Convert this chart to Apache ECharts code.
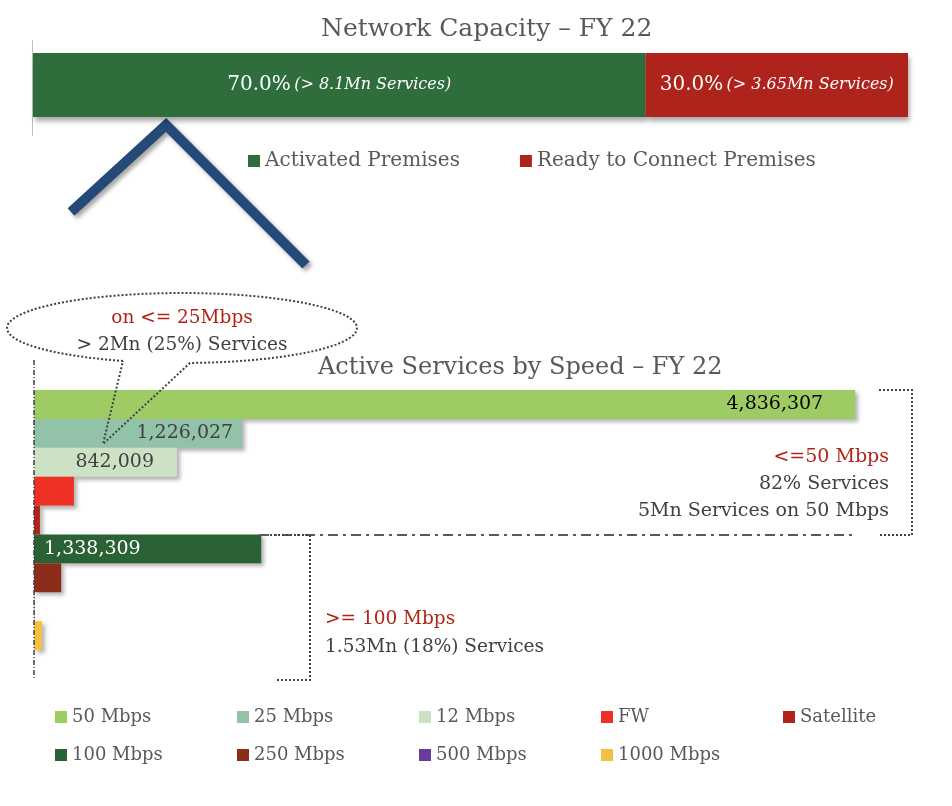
<!DOCTYPE html>
<html lang="en">
<head>
    <meta charset="UTF-8">
    <title>Network Capacity FY 22</title>
    <script src="https://cdn.jsdelivr.net/npm/echarts@6/dist/echarts.min.js"></script>
    <style>
        html, body { margin: 0; padding: 0; background: #fff; }
        #chart { width: 952px; height: 806px; }
    </style>
</head>
<body>
    <div id="chart"></div>
    <script>
        // top chart: network capacity split
        const capacityNames = ['Activated Premises', 'Ready to Connect Premises'];
        const capacityShare = [70.0, 30.0];
        const capacityServices = ['8.1Mn', '3.65Mn'];
        const capacityColors = ['#2f6e3c', '#ae231b'];

        // bottom chart: active services by speed tier
        const speedNames = ['50 Mbps', '25 Mbps', '12 Mbps', 'FW', 'Satellite', '100 Mbps', '250 Mbps', '500 Mbps', '1000 Mbps'];
        const speedValues = [4836307, 1226027, 842009, 235000, 35000, 1338309, 160000, 2000, 47000];
        const speedColors = ['#9fcb64', '#92c3a9', '#cde2c5', '#ee3124', '#b2241a', '#2a6135', '#8b2d18', '#6a3a9c', '#f6c143'];

        const serif = '"DejaVu Serif", serif';
        const grey = '#404040';

        const chart = echarts.init(document.getElementById('chart'));

        const capSeries = capacityNames.map((name, i) => ({
            name: name,
            type: 'bar',
            stack: 'cap',
            xAxisIndex: 0, yAxisIndex: 0,
            barWidth: '100%',
            data: [capacityShare[i]],
            itemStyle: { color: capacityColors[i], shadowBlur: 5, shadowOffsetX: 2, shadowOffsetY: 4, shadowColor: 'rgba(0,0,0,0.35)' },
            label: {
                show: true,
                position: 'inside',
                formatter: () => '{a|' + capacityShare[i].toFixed(1) + '%} {b|(> ' + capacityServices[i] + ' Services)}',
                rich: {
                    a: { color: '#fff', fontFamily: serif, fontSize: 20 },
                    b: { color: '#fff', fontFamily: serif, fontSize: 16, fontStyle: 'italic' }
                }
            }
        }));

        const labelSetup = {
            '50 Mbps': { position: 'insideRight', distance: 32, color: '#000' },
            '25 Mbps': { position: 'insideRight', distance: 9, color: grey },
            '12 Mbps': { position: 'insideRight', distance: 23, color: grey },
            '100 Mbps': { position: 'insideLeft', distance: 10, color: '#fff' }
        };

        const speedSeries = speedNames.map((name, i) => {
            const lab = labelSetup[name];
            return {
                name: name,
                type: 'bar',
                stack: 'speed',
                xAxisIndex: 1, yAxisIndex: 1,
                barWidth: '100%',
                data: speedNames.map((n, j) => (j === i ? speedValues[i] : '-')),
                itemStyle: { color: speedColors[i], shadowBlur: 4, shadowOffsetX: 3, shadowOffsetY: 3, shadowColor: 'rgba(0,0,0,0.3)' },
                label: lab ? {
                    show: true,
                    position: lab.position,
                    distance: lab.distance,
                    color: lab.color,
                    fontFamily: serif,
                    fontSize: 19,
                    formatter: p => p.value.toLocaleString('en-US')
                } : { show: false }
            };
        });

        // one small legend per speed tier, laid out in a 5-column grid
        const speedLegends = speedNames.map((name, i) => ({
            data: [name],
            left: 55 + (i % 5) * 182,
            top: 708 + Math.floor(i / 5) * 38,
            padding: 0,
            icon: 'rect',
            itemWidth: 12, itemHeight: 12,
            textStyle: { color: '#595959', fontFamily: serif, fontSize: 18 }
        }));

        // speech bubble outline: ellipse with a tail pointing at the 25 Mbps bar
        const bubble = [];
        const a0 = Math.acos(-59 / 175), a1 = 2 * Math.PI + Math.acos(8 / 175);
        for (let k = 0; k <= 80; k++) {
            const t = a0 + (a1 - a0) * k / 80;
            bubble.push([182 + 175 * Math.cos(t), 328 + 35 * Math.sin(t)]);
        }
        bubble.push([103, 444]);
        bubble.push(bubble[0]);

        const dotted = { stroke: grey, lineWidth: 2, lineDash: [2, 2], fill: null };
        const txt = (text, x, y, align, fill, size) => ({
            type: 'text', z: 100,
            style: { text: text, x: x, y: y, align: align, verticalAlign: 'middle', fill: fill, font: size + 'px "DejaVu Serif"' }
        });

        chart.setOption({
            animation: false,
            title: [
                { text: 'Network Capacity – FY 22', left: 316, top: 12, textStyle: { color: '#595959', fontFamily: serif, fontSize: 25, fontWeight: 'normal' } },
                { text: 'Active Services by Speed – FY 22', left: 313, top: 351, textStyle: { color: '#595959', fontFamily: serif, fontSize: 24, fontWeight: 'normal' } }
            ],
            legend: [{
                data: capacityNames,
                left: 248, top: 151,
                padding: 0,
                icon: 'rect',
                itemWidth: 12, itemHeight: 12,
                itemGap: 60,
                textStyle: { color: '#595959', fontFamily: serif, fontSize: 20 }
            }].concat(speedLegends),
            grid: [
                { left: 33, top: 53, width: 875, height: 64 },
                { left: 34, top: 390, width: 849, height: 260 }
            ],
            xAxis: [
                { gridIndex: 0, type: 'value', min: 0, max: 100, show: false },
                { gridIndex: 1, type: 'value', min: 0, max: 5000000, show: false }
            ],
            yAxis: [
                { gridIndex: 0, type: 'category', data: ['FY 22'], show: false },
                { gridIndex: 1, type: 'category', data: speedNames, inverse: true, show: false }
            ],
            series: capSeries.concat(speedSeries),
            graphic: [
                // axis line of top chart
                { type: 'line', z: 1, shape: { x1: 32.5, y1: 40, x2: 32.5, y2: 136 }, style: { stroke: '#bfbfbf', lineWidth: 1 } },
                // chevron
                { type: 'polyline', z: 1, shape: { points: [[71, 212], [166, 125], [306, 265]] },
                  style: { stroke: '#264a78', lineWidth: 10, fill: null, lineJoin: 'miter', shadowBlur: 4, shadowOffsetX: 3, shadowOffsetY: 3, shadowColor: 'rgba(0,0,0,0.35)' } },
                // vertical dashed axis of bottom chart
                { type: 'line', z: 100, shape: { x1: 34, y1: 360, x2: 34, y2: 680 }, style: { stroke: grey, lineWidth: 1.5, lineDash: [5, 2, 1, 2] } },
                // callout bubble
                { type: 'polyline', z: 100, shape: { points: bubble }, style: dotted },
                txt('on <= 25Mbps', 182, 318, 'center', '#b22418', 18.5),
                txt('> 2Mn (25%) Services', 182, 345, 'center', grey, 18.5),
                // <=50 Mbps bracket
                { type: 'polyline', z: 100, shape: { points: [[879, 390], [912, 390], [912, 535], [879, 535]] }, style: dotted },
                txt('<=50 Mbps', 889, 457, 'right', '#b22418', 19),
                txt('82% Services', 889, 484, 'right', grey, 19),
                txt('5Mn Services on 50 Mbps', 889, 511, 'right', grey, 19),
                // divider
                { type: 'line', z: 100, shape: { x1: 259, y1: 535, x2: 852, y2: 535 }, style: { stroke: '#595959', lineWidth: 2, lineDash: [10, 5, 3, 5] } },
                // >=100 Mbps bracket
                { type: 'polyline', z: 100, shape: { points: [[270, 535], [310, 535], [310, 680], [276, 680]] }, style: dotted },
                txt('>= 100 Mbps', 325, 619, 'left', '#b22418', 18.5),
                txt('1.53Mn (18%) Services', 325, 647, 'left', grey, 18.5)
            ]
        });
    </script>
</body>
</html>
